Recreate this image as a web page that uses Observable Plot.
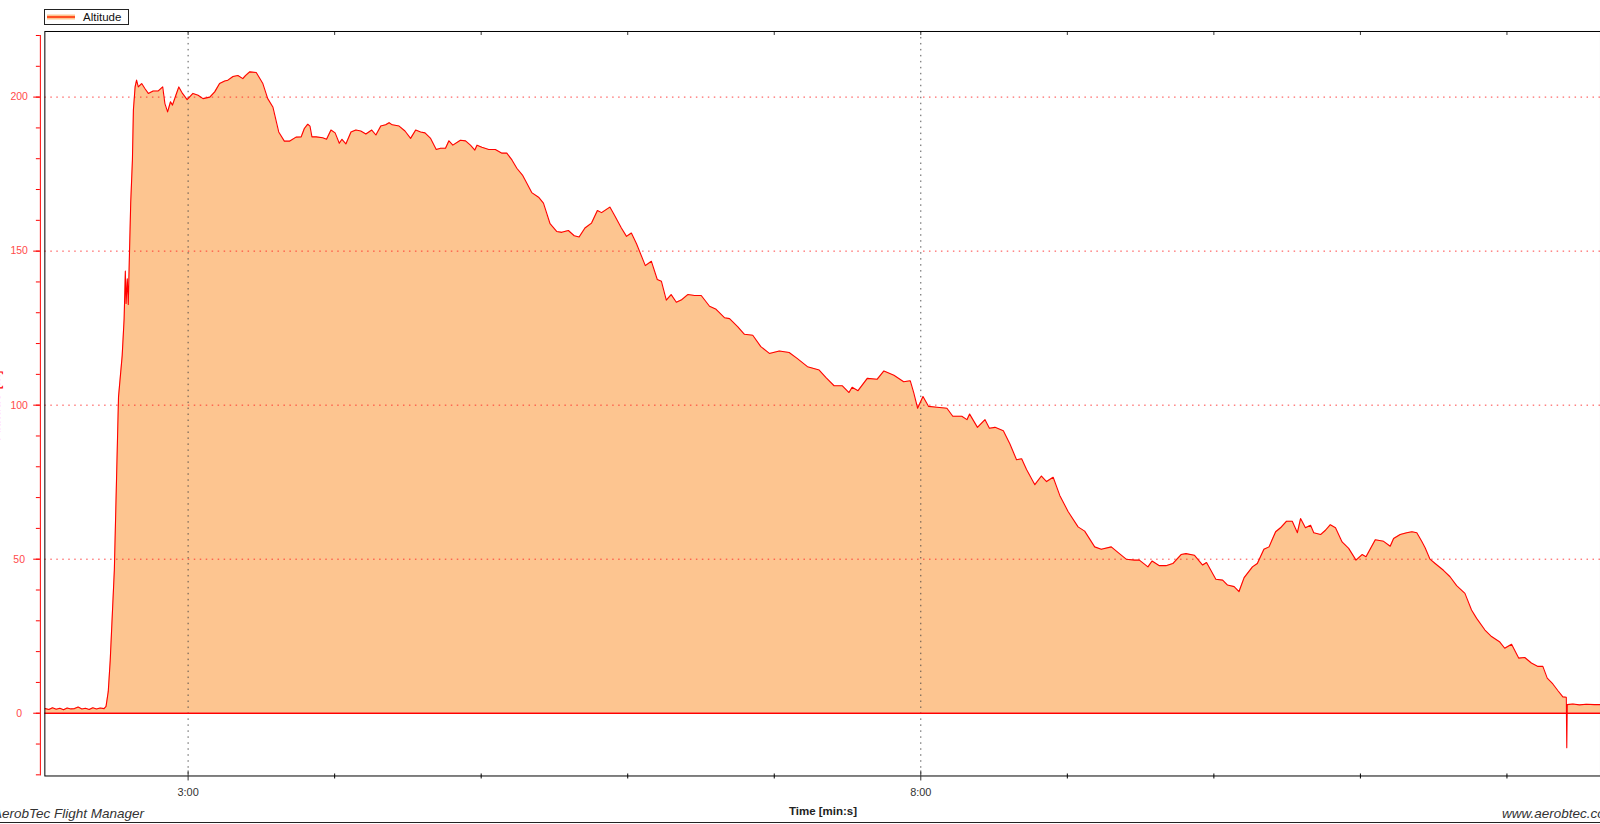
<!DOCTYPE html>
<html>
<head>
<meta charset="utf-8">
<script src="https://cdn.jsdelivr.net/npm/d3@7"></script>
<script src="https://cdn.jsdelivr.net/npm/@observablehq/plot@0.6"></script>
<style>
  html, body { margin: 0; padding: 0; background: #fff; overflow: hidden; width: 1600px; height: 824px; }
  body { font-family: "Liberation Sans", Arial, sans-serif; }
  #header { position: relative; height: 28px; width: 1600px; }
  #legend { position: absolute; left: 44px; top: 9px; width: 85px; height: 16px; box-sizing: border-box; border: 1px solid #222; background: #fff; }
  #legend svg { position: absolute; left: 2px; top: 3px; }
  #legend span { position: absolute; left: 38px; top: 0px; font-size: 11.5px; line-height: 14px; color: #111; }
  #chart { height: 774px; width: 1600px; overflow: hidden; }
  #footer { position: relative; height: 22px; width: 1600px; overflow: hidden; }
  .ft { position: absolute; white-space: nowrap; color: #333; }
</style>
</head>
<body>
<div id="header">
  <div id="legend">
    <svg width="30" height="9"><rect x="0" y="1.5" width="28" height="5" fill="#fdc590"></rect><line x1="0" x2="28" y1="4" y2="4" stroke="#ff2a00" stroke-width="1.5"></line></svg>
    <span>Altitude</span>
  </div>
</div>
<div id="chart"></div>
<div id="footer">
  <span class="ft" style="right:1456px; top:4px; font-size:13.5px; line-height:15px; font-style:italic;">AerobTec Flight Manager</span>
  <span class="ft" style="left:823px; top:3px; transform:translateX(-50%); font-size:11.5px; line-height:13px; font-weight:bold; color:#222;">Time [min:s]</span>
  <span class="ft" style="left:1502px; top:4px; font-size:13.5px; line-height:15px; font-style:italic;">www.aerobtec.com</span>
  <div style="position:absolute; left:0; top:20px; width:1600px; height:1px; background:#222;"></div>
</div>
<script>
// Flight time (seconds) and altitude (m)
const timeSec = [
  121.5,123.0,124.5,126.0,127.5,129.0,130.5,132.0,133.5,135.0,136.5,138.0,139.5,141.0,142.5,144.0,145.6,146.4,
  147.3,148.1,149.8,151.5,153.0,153.8,154.3,154.6,155.1,155.5,155.9,156.5,157.2,157.6,158.3,158.9,159.6,161.0,
  162.3,163.7,165.7,167.8,169.6,170.5,171.6,172.8,173.6,175.0,176.2,177.7,179.6,182.0,184.1,186.1,188.9,190.9,
  192.9,195.0,196.3,198.4,200.4,202.4,203.5,
  205.2,207.9,210.6,212.6,214.7,217.1,219.4,221.5,224.2,226.3,227.6,229.0,229.9,230.7,232.4,235.1,236.7,238.5,
  240.2,241.9,243.0,244.6,246.7,248.7,250.7,252.8,255.2,256.9,258.9,260.9,262.3,263.6,266.4,268.8,271.1,273.2,
  275.2,277.0,279.3,281.6,283.4,285.4,286.8,288.4,291.5,293.6,295.6,297.4,298.3,300.3,303.1,305.8,308.5,310.5,
  312.6,314.6,316.9,318.7,320.7,323.5,325.5,328.2,330.9,333.0,335.7,338.1,340.1,342.5,345.2,347.6,349.3,352.7,
  354.7,357.4,359.5,361.5,363.6,
  367.2,369.7,372.1,373.8,375.8,377.8,379.9,381.9,384.6,387.4,390.1,393.5,396.2,399.6,401.7,405.0,407.8,411.2,
  414.5,418.0,422.1,426.1,429.5,433.6,438.4,441.1,444.5,447.9,450.6,451.9,454.3,458.1,462.1,464.9,469.0,473.0,
  475.7,477.1,478.7,480.9,483.2,486.6,490.7,493.1,496.8,498.9,500.0,503.2,506.3,508.1,510.4,
  513.8,516.5,519.2,521.3,523.3,526.7,529.4,531.5,534.2,536.9,540.3,544.4,547.1,551.2,553.9,558.0,560.7,564.1,
  567.5,569.5,573.0,574.7,577.7,580.4,583.2,586.6,588.6,592.0,595.4,597.0,600.8,603.6,605.6,608.3,610.3,612.4,
  615.8,617.8,620.5,622.6,625.3,627.3,629.7,632.1,634.2,635.5,637.5,639.6,640.9,643.7,645.7,647.7,649.8,652.5,
  655.2,658.2,660.7,662.3,
  666.1,669.5,672.2,673.6,676.3,679.0,681.1,683.1,685.1,686.5,688.5,690.6,694.0,696.7,699.4,702.8,705.5,707.6,
  711.0,713.7,717.1,719.1,721.9,724.8,727.3,730.0,732.7,734.7,736.5,738.8,740.9,742.9,744.3,744.5,744.7,747.0,
  749.7,752.5,755.8,758.3
];
const altitude = [
  1.5,1.2,1.8,1.3,1.6,1.1,1.7,1.4,1.5,2.0,1.4,1.6,1.2,1.8,1.4,1.7,1.5,2.2,
  7.0,17.0,46.5,102.6,116.0,128.0,143.5,133.0,141.0,132.7,146.2,165.6,179.6,195.8,203.3,205.5,203.3,204.4,
  202.8,201.2,202.0,202.0,203.3,197.9,195.2,198.5,197.4,200.6,203.3,201.2,199.2,201.2,200.6,199.5,200.0,201.7,
  204.4,205.2,205.5,206.7,207.0,206.0,207.0,
  208.2,208.0,204.4,199.5,196.8,188.7,185.7,185.7,187.0,187.1,189.8,191.2,190.6,187.1,187.1,186.8,186.3,189.3,
  188.4,185.0,186.3,184.8,188.7,189.3,189.0,188.0,189.3,187.7,190.6,191.0,191.7,191.0,190.6,189.0,186.6,189.3,
  188.7,188.4,186.6,183.0,183.4,183.4,185.8,184.4,186.0,185.8,184.4,182.8,184.4,183.7,183.0,183.0,181.8,181.8,
  179.6,176.9,174.7,172.0,169.0,167.5,165.6,158.9,156.4,156.1,156.7,155.0,154.6,157.5,159.1,163.2,162.5,164.3,
  161.5,157.5,154.8,155.9,152.4,
  145.3,146.7,140.8,140.2,134.1,135.9,133.4,134.1,135.9,135.6,135.6,132.1,131.1,128.4,128.1,125.5,123.0,122.7,
  119.0,116.8,117.6,117.1,115.1,112.5,111.4,109.0,106.3,106.3,104.1,105.8,104.7,108.7,108.4,111.1,109.7,107.6,
  107.9,104.1,99.0,102.8,99.6,99.3,99.0,96.4,96.4,95.3,97.1,92.8,95.3,92.5,92.8,
  91.7,87.4,82.3,82.6,79.1,74.2,77.0,75.2,76.6,70.7,65.5,60.5,59.1,54.0,53.2,54.0,52.2,50.0,
  49.7,49.7,47.5,49.4,47.9,47.9,48.6,51.5,51.8,51.3,48.1,48.9,43.5,43.2,41.6,41.1,39.5,44.0,
  47.5,48.6,53.2,54.0,58.9,60.2,62.3,62.3,58.6,63.2,60.2,61.0,58.6,58.0,59.4,61.2,60.2,55.6,
  53.5,49.7,51.5,50.8,
  56.3,55.8,54.2,56.7,58.0,58.6,58.9,58.6,55.8,53.7,50.0,48.6,46.4,44.3,41.4,38.9,33.5,30.8,
  27.0,24.9,23.1,21.1,22.4,17.9,18.1,16.3,15.2,15.2,11.4,9.5,7.3,5.3,5.2,-11.2,2.8,3.0,
  2.7,2.9,2.8,2.8
];

// Axis definitions
const xDomain = [121.34, 758.3];
const yDomain = [-20.37, 221.3];
const yMajorTicks = [0, 50, 100, 150, 200];
const yMinorTicks = [-20, -10, 0, 10, 20, 30, 40, 50, 60, 70, 80, 90, 100, 110, 120, 130, 140, 150, 160, 170, 180, 190, 200, 210, 220];
const yGridTicks = [50, 100, 150, 200];
const xMajorTicks = [180, 480];
const xMajorLabels = ["3:00", "8:00"];
const xMinorTicks = [240, 300, 360, 420, 540, 600, 660, 720];
const xAllTicks = [180, 240, 300, 360, 420, 480, 540, 600, 660, 720];
const yTitle = ["Altitude [m]"];

const rows = timeSec.map((t, i) => ({t, alt: altitude[i]}));

const RED = "#ff0000";
const chart = Plot.plot({
  width: 1606,
  height: 774,
  marginLeft: 44.5,
  marginRight: 0,
  marginTop: 3,
  marginBottom: 23.7,
  x: {domain: xDomain, label: null},
  y: {domain: yDomain, label: null},
  style: {fontFamily: '"Liberation Sans", Arial, sans-serif', background: "#fff"},
  marks: [
    Plot.areaY(rows, {x: "t", y: "alt", fill: "#fdc590"}),
    Plot.gridY(yGridTicks, {stroke: "#ff2020", strokeOpacity: 0.85, strokeDasharray: "1.5,4.5"}),
    Plot.gridX(xMajorTicks, {stroke: "#444", strokeOpacity: 0.9, strokeDasharray: "1.5,4.5"}),
    Plot.lineY(rows, {x: "t", y: "alt", stroke: RED, strokeWidth: 1.1}),
    Plot.ruleY([0], {stroke: RED, strokeWidth: 1.6}),
    Plot.frame({stroke: "#000"}),
    // left red axis
    Plot.ruleX([xDomain[0]], {y1: yDomain[0], y2: 220, stroke: RED, dx: -4.5}),
    Plot.axisY(yMinorTicks, {anchor: "left", tickSize: 4, dx: -4.5, stroke: RED, fill: "none"}),
    Plot.axisY(yMajorTicks, {anchor: "left", tickSize: 6.7, dx: -4.5, tickPadding: 14.6, textAnchor: "middle",
      stroke: RED, fill: "#ff4a4a", fontSize: 10.5, tickFormat: d => String(d)}),
    Plot.text(yTitle, {frameAnchor: "left", rotate: -90, textAnchor: "end", dx: -49.5, dy: -33.6, fill: RED, fontSize: 14}),
    // bottom axis
    Plot.axisX(xMinorTicks, {anchor: "bottom", tickSize: 5, dy: -2, stroke: "#000", fill: "none"}),
    Plot.axisX(xMajorTicks, {anchor: "bottom", tickSize: 10, dy: -5, tickPadding: 7, stroke: "#333", fill: "#333",
      fontSize: 11, tickFormat: d => xMajorLabels[xMajorTicks.indexOf(d)]}),
    // top inward ticks
    Plot.axisX(xAllTicks, {anchor: "top", tickSize: 3, dy: 3, stroke: "#333", fill: "none"})
  ]
});
document.getElementById("chart").appendChild(chart);
</script>
</body>
</html>
